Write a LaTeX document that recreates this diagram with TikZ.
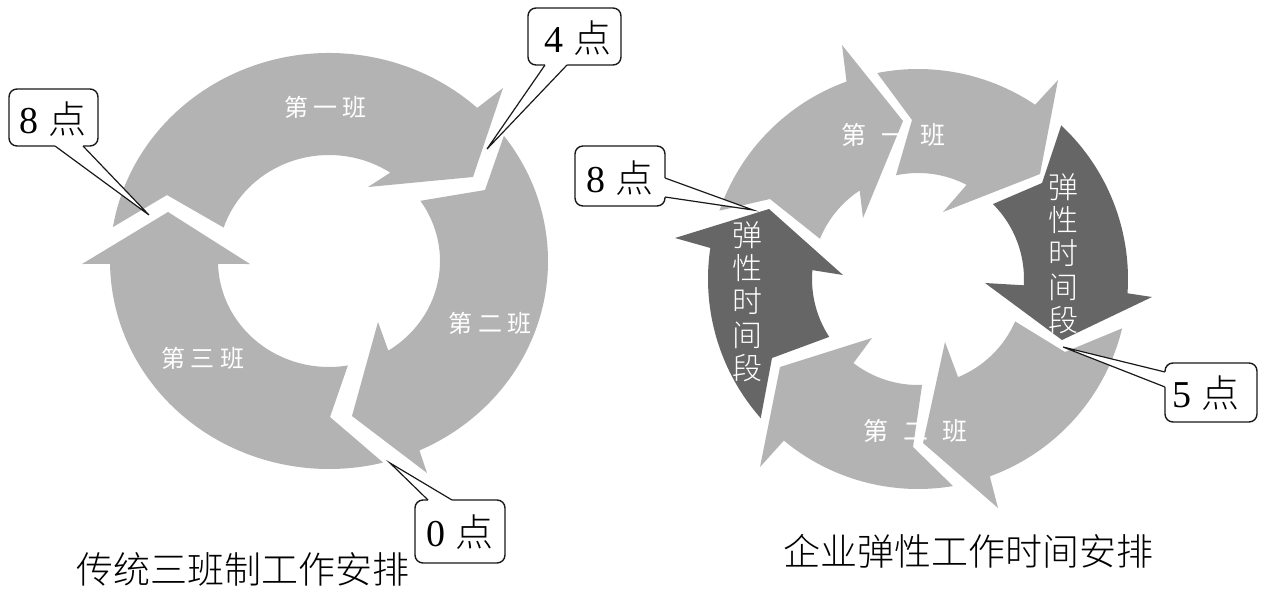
\documentclass[tikz,border=0pt]{standalone}
\usepackage{fontspec}
\setmainfont{Liberation Serif}
\newfontfamily\cjk{Noto Sans CJK SC}
\newfontfamily\cjkl{Noto Sans CJK SC Light}
\usetikzlibrary{calc}
\definecolor{lg}{HTML}{B3B3B3}
\definecolor{dg}{HTML}{666666}
\definecolor{ink}{HTML}{1A1A1A}
\begin{document}
\begin{tikzpicture}[x=1pt,y=1pt,yscale=-1,
  lo/.style={x radius=219pt,y radius=208pt},
  li/.style={x radius=111pt,y radius=106pt},
  ro/.style={radius=210pt},
  ri/.style={radius=106pt},
  seglight/.style={fill=lg},
  segdark/.style={fill=dg},
  ringlbl/.style={text=white,inner sep=0pt},
  vlbl/.style={text=white,inner sep=0pt,align=center,font=\cjkl\fontsize{30}{33.3}\selectfont},
  callbox/.style={draw=ink,line width=1.4pt,fill=white,rounded corners=8pt,inner sep=0pt},
  calltext/.style={inner sep=0pt,font=\fontsize{38}{38}\selectfont},
  ptr/.style={draw=ink,line width=1.2pt,line join=miter},
  capt/.style={inner sep=0pt,font=\cjkl\fontsize{37}{37}\selectfont}
]
\useasboundingbox (0,0) rectangle (1264,603);
\fill[white] (0,0) rectangle (1264,603);

\coordinate (LC) at (329,261);
\coordinate (RC) at (918,279);

% ---------------- left diagram ----------------
\fill[seglight] ($(LC)+(189.4:219 and 208)$) arc[lo,start angle=189.4,end angle=312.6]
  -- (503,88) -- (473,177) -- (368,187) -- ($(LC)+(303.5:111 and 106)$)
  arc[li,start angle=303.5,end angle=198.4] -- (167,195) -- cycle;
\fill[seglight] ($(LC)+(323:219 and 208)$) arc[lo,start angle=323,end angle=425.6]
  -- (427,473) -- (352,416) -- (378,322) -- ($(LC)+(417.7:111 and 106)$)
  arc[li,start angle=417.7,end angle=325.4] -- (485,190) -- cycle;
\fill[seglight] ($(LC)+(75.7:219 and 208)$) arc[lo,start angle=75.7,end angle=179.2]
  -- (82,264) -- (168,212) -- (250,264) -- ($(LC)+(178.4:111 and 106)$)
  arc[li,start angle=178.4,end angle=80.2] -- (330,417) -- cycle;

\node[ringlbl,font=\cjk\fontsize{24}{24}\selectfont] (l1) at (325.5,107.5) {第\hspace{5.5pt}一\hspace{5.5pt}班};
\node[ringlbl,font=\cjk\fontsize{24}{24}\selectfont] (l2) at (490,323.5) {第\hspace{5.5pt}二\hspace{5.5pt}班};
\node[ringlbl,font=\cjk\fontsize{24}{24}\selectfont] (l3) at (203,358.5) {第\hspace{5.5pt}三\hspace{5.5pt}班};

% ---------------- right diagram ----------------
\fill[seglight] ($(RC)+(199:210)$) arc[ro,start angle=199,end angle=250.1]
  -- (842,45) -- (903,121) -- (863,218) -- ($(RC)+(236.6:106)$)
  arc[ri,start angle=236.6,end angle=202.3] -- (770,199) -- cycle;
\fill[seglight] ($(RC)+(258.8:210)$) arc[ro,start angle=258.8,end angle=303.9]
  -- (1058,80) -- (1040,174) -- (943,212) -- ($(RC)+(297.3:106)$)
  arc[ri,start angle=297.3,end angle=258] -- (912,120) -- cycle;
\fill[segdark] ($(RC)+(313:210)$) arc[ro,start angle=313,end angle=363.9]
  -- (1152,297) -- (1062,340) -- (985,283) -- ($(RC)+(363.4:106)$)
  arc[ri,start angle=363.4,end angle=315] -- (1042,183) -- cycle;
\fill[seglight] ($(RC)+(13.6:210)$) arc[ro,start angle=13.6,end angle=70]
  -- (998,508) -- (923,443) -- (945,342) -- ($(RC)+(67.8:106)$)
  arc[ri,start angle=67.8,end angle=23.6] -- (1065,352) -- cycle;
\fill[seglight] ($(RC)+(80.4:210)$) arc[ro,start angle=80.4,end angle=129.7]
  -- (760,467) -- (780,367) -- (872,338) -- ($(RC)+(127.5:106)$)
  arc[ri,start angle=127.5,end angle=87.8] -- (913,447) -- cycle;
\fill[segdark] ($(RC)+(138.5:210)$) arc[ro,start angle=138.5,end angle=188.5]
  -- (675,238) -- (769,209) -- (843,275) -- ($(RC)+(184.8:106)$)
  arc[ri,start angle=184.8,end angle=146.9] -- (772,358) -- cycle;

\node[ringlbl,font=\cjk\fontsize{25}{25}\selectfont] (r1) at (893.5,135) {第\hspace{14.5pt}一\hspace{14.5pt}班};
\node[ringlbl,font=\cjk\fontsize{25}{25}\selectfont] (r2) at (915.5,431) {第\hspace{14.5pt}二\hspace{14.5pt}班};
\node[vlbl] (v1) at (747,301.5) {弹\\性\\时\\间\\段};
\node[vlbl] (v2) at (1063,253.5) {弹\\性\\时\\间\\段};

% ---------------- callouts ----------------
% 4 点
\node[callbox,minimum width=93pt,minimum height=57pt] (cfour) at (574.5,36.5) {};
\coordinate (pfour) at (487,149);
\fill[white] (545,62.5) -- (545,65) -- (pfour) -- (567,65) -- (567,62.5) -- cycle;
\draw[ptr] (545,65) -- (pfour) -- (567,65);
\node[calltext] (tfour) at (578,38) {4\hspace{10pt}{\cjkl 点}};

% 8 点 (left)
\node[callbox,minimum width=89pt,minimum height=57pt] (ceightL) at (53.5,117.5) {};
\coordinate (peightL) at (149,215);
\fill[white] (55,143.5) -- (55,146) -- (peightL) -- (83,146) -- (83,143.5) -- cycle;
\draw[ptr] (55,146) -- (peightL) -- (83,146);
\node[calltext] (teightL) at (53,119) {8\hspace{10pt}{\cjkl 点}};

% 0 点
\node[callbox,minimum width=90pt,minimum height=63pt] (czero) at (460,531.5) {};
\coordinate (pzero) at (390,463);
\fill[white] (428,502.5) -- (428,500) -- (pzero) -- (452,500) -- (452,502.5) -- cycle;
\draw[ptr] (428,500) -- (pzero) -- (452,500);
\node[calltext] (tzero) at (460,532) {0\hspace{10pt}{\cjkl 点}};

% 8 点 (right)
\node[callbox,minimum width=90pt,minimum height=60pt] (ceightR) at (620,176) {};
\coordinate (peightR) at (753,210);
\fill[white] (662.5,178) -- (665,178) -- (peightR) -- (665,197) -- (662.5,197) -- cycle;
\draw[ptr] (665,178) -- (peightR) -- (665,197);
\node[calltext] (teightR) at (620,178) {8\hspace{10pt}{\cjkl 点}};

% 5 点
\node[callbox,minimum width=92pt,minimum height=59pt] (cfive) at (1211,392.5) {};
\coordinate (pfive) at (1063,347);
\fill[white] (1167.5,372) -- (1165,372) -- (pfive) -- (1165,387) -- (1167.5,387) -- cycle;
\draw[ptr] (1165,372) -- (pfive) -- (1165,387);
\node[calltext] (tfive) at (1206,393) {5\hspace{10pt}{\cjkl 点}};

% ---------------- captions ----------------
\node[capt] (capL) at (243,569) {传统三班制工作安排};
\node[capt] (capR) at (968,551) {企业弹性工作时间安排};
\end{tikzpicture}
\end{document}
